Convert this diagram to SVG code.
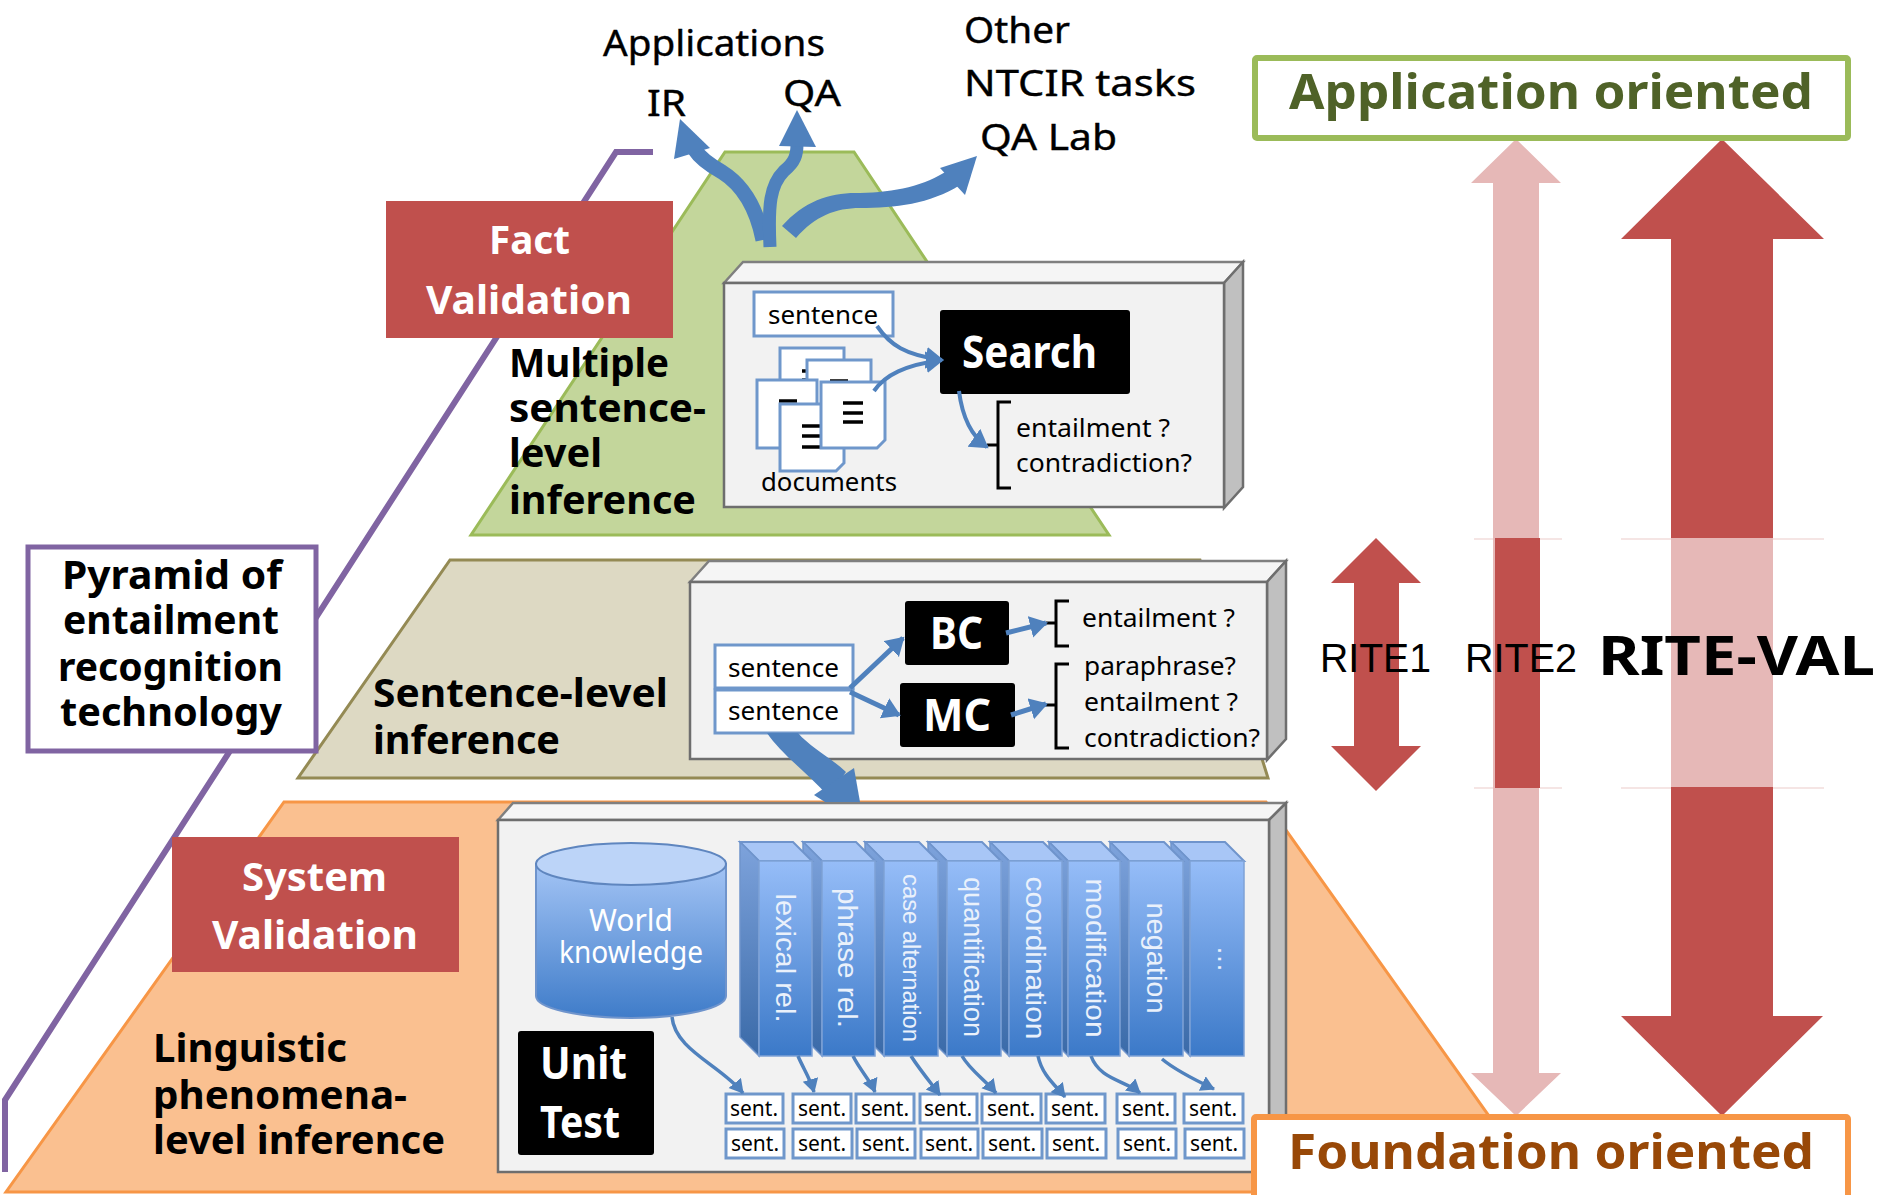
<svg xmlns="http://www.w3.org/2000/svg" width="1879" height="1195" viewBox="0 0 1879 1195">
<style>
text{font-family:"Noto Sans","Liberation Sans",sans-serif;fill:#000}
.b{font-weight:700}
.w{fill:#fff}
.c{text-anchor:middle}
.h{font-size:40px;font-weight:700}
.s{font-size:26px}
.t{font-size:37px;stroke:#000;stroke-width:.4}
.cap{font-size:48px;font-weight:700}
.blk{fill:#000}
.sb{fill:#fff;stroke:#6f97cb;stroke-width:3}
.st{font-size:21px;text-anchor:middle}
.front{fill:#f2f2f2;stroke:#6e6e6e;stroke-width:2.5}
.topf{fill:#f5f5f5;stroke:#7f7f7f;stroke-width:2.5}
.side{fill:#c0c0c0;stroke:#6e6e6e;stroke-width:2.5}
.cf{fill:url(#gf);stroke:#7fa2d6;stroke-width:1.5}
.cl{fill:url(#gl);stroke:#6f94cc;stroke-width:1.5}
.ct{fill:#a8c6f6;stroke:#6f94cc;stroke-width:2}
.rt{fill:#eaf1fb;font-family:"Liberation Sans",sans-serif;font-size:27px;text-anchor:middle}
.doc{fill:#fff;stroke:#6f97cb;stroke-width:3}
.ln{stroke:#000;stroke-width:3.5;fill:none}
.br{stroke:#000;stroke-width:3;fill:none}
.arr{fill:none;stroke:#4f81bd;stroke-linecap:butt}
.ah{fill:#4f81bd}
.dk{fill:#c0504d}
.pl{fill:#e6b8b7}
.fl{stroke:#f2dcdb;stroke-width:1.5}
</style>
<defs>
<linearGradient id="gf" x1="0" y1="0" x2="0" y2="1"><stop offset="0" stop-color="#96bdf8"/><stop offset="1" stop-color="#3b79c8"/></linearGradient>
<linearGradient id="gl" x1="0" y1="0" x2="0" y2="1"><stop offset="0" stop-color="#7ea3dc"/><stop offset="1" stop-color="#3a6aa8"/></linearGradient>
<linearGradient id="gc" x1="0" y1="0" x2="0" y2="1"><stop offset="0" stop-color="#a3c4f5"/><stop offset="1" stop-color="#3f7cc9"/></linearGradient>
<marker id="m" markerUnits="userSpaceOnUse" markerWidth="18" markerHeight="18" refX="13" refY="8" orient="auto"><path d="M0 0L14 8L0 16Z" fill="#4f81bd"/></marker>
<marker id="ms" markerUnits="userSpaceOnUse" markerWidth="20" markerHeight="24" refX="16" refY="11" orient="auto"><path d="M0 0L18 11L0 22Z" fill="#4f81bd"/></marker>
</defs>
<rect width="1879" height="1195" fill="#fff"/>

<g id="pyramid-top"><polygon points="725,152 854,152 1109,535 471,535" fill="#c3d69b" stroke="#9bbb59" stroke-width="3"/></g>
<g id="pyramid-middle"><polygon points="450,560 1200,560 1268,778 298,778" fill="#ddd9c3" stroke="#948a54" stroke-width="3"/></g>
<g id="pyramid-bottom"><polygon points="284,802 1266,802 1543,1192 6,1192" fill="#fac090" stroke="#f79646" stroke-width="3"/></g>

<g id="pyramid-outline"><polyline points="653,152 616,152 5,1100 5,1172" fill="none" stroke="#8064a2" stroke-width="6"/></g>

<g id="rite-val">
<polygon class="dk" points="1722,139 1824,239 1773,239 1773,1016 1823,1016 1722,1116 1621,1016 1671,1016 1671,239 1621,239"/>
<rect class="pl" x="1671" y="538" width="102" height="249"/>
<line class="fl" x1="1621" y1="539" x2="1671" y2="539"/><line class="fl" x1="1773" y1="539" x2="1824" y2="539"/>
<line class="fl" x1="1621" y1="788" x2="1671" y2="788"/><line class="fl" x1="1773" y1="788" x2="1824" y2="788"/>
</g>
<g id="rite2">
<polygon class="pl" points="1516,139 1561,183 1539,183 1539,1073 1561,1073 1516,1116 1471,1073 1493,1073 1493,183 1471,183"/>
<rect class="dk" x="1495" y="538" width="45" height="250"/>
<line class="fl" x1="1474" y1="539" x2="1493" y2="539"/><line class="fl" x1="1540" y1="539" x2="1562" y2="539"/>
<line class="fl" x1="1474" y1="788" x2="1493" y2="788"/><line class="fl" x1="1540" y1="788" x2="1562" y2="788"/>
</g>
<g id="rite1"><polygon class="dk" points="1376,538 1421,583 1399,583 1399,746 1421,746 1376,791 1331,746 1354,746 1354,583 1331,583"/></g>
<text x="1320" y="672" font-size="40" textLength="111" lengthAdjust="spacingAndGlyphs" style="font-family:'Liberation Sans',sans-serif">RITE1</text>
<text x="1465" y="672" font-size="40" textLength="112" lengthAdjust="spacingAndGlyphs" style="font-family:'Liberation Sans',sans-serif">RITE2</text>
<text x="1598" y="675" font-size="54" class="b" textLength="277" lengthAdjust="spacingAndGlyphs">RITE-VAL</text>

<g id="application-oriented"><rect x="1255" y="58" width="593" height="80" fill="#fff" stroke="#9bbb59" stroke-width="6" rx="2"/>
<text x="1289" y="109" class="cap" style="fill:#4f6228" textLength="524" lengthAdjust="spacingAndGlyphs">Application oriented</text></g>

<g id="pyramid-label"><rect x="28" y="547" width="288" height="204" fill="#fff" stroke="#8064a2" stroke-width="5"/>
<text x="62" y="589" class="h" textLength="220" lengthAdjust="spacingAndGlyphs">Pyramid of</text>
<text x="63" y="634" class="h" textLength="216" lengthAdjust="spacingAndGlyphs">entailment</text>
<text x="58" y="681" class="h" textLength="225" lengthAdjust="spacingAndGlyphs">recognition</text>
<text x="60" y="726" class="h" textLength="222" lengthAdjust="spacingAndGlyphs">technology</text></g>

<g id="fact-validation"><rect x="386" y="201" width="287" height="137" class="dk"/>
<text x="489" y="254" class="h w" textLength="81" lengthAdjust="spacingAndGlyphs">Fact</text>
<text x="426" y="314" class="h w" textLength="206" lengthAdjust="spacingAndGlyphs">Validation</text></g>
<g id="multiple-label">
<text x="509" y="377" class="h" textLength="160" lengthAdjust="spacingAndGlyphs">Multiple</text>
<text x="509" y="422" class="h" textLength="197" lengthAdjust="spacingAndGlyphs">sentence-</text>
<text x="509" y="467" class="h" textLength="93" lengthAdjust="spacingAndGlyphs">level</text>
<text x="509" y="514" class="h" textLength="187" lengthAdjust="spacingAndGlyphs">inference</text></g>

<g id="system-validation"><rect x="172" y="837" width="287" height="135" class="dk"/>
<text x="242" y="891" class="h w" textLength="145" lengthAdjust="spacingAndGlyphs">System</text>
<text x="212" y="949" class="h w" textLength="206" lengthAdjust="spacingAndGlyphs">Validation</text></g>
<g id="sentence-level-label">
<text x="373" y="707" class="h" textLength="295" lengthAdjust="spacingAndGlyphs">Sentence-level</text>
<text x="373" y="754" class="h" textLength="187" lengthAdjust="spacingAndGlyphs">inference</text></g>
<g id="linguistic-label">
<text x="153" y="1062" class="h" textLength="194" lengthAdjust="spacingAndGlyphs">Linguistic</text>
<text x="153" y="1109" class="h" textLength="254" lengthAdjust="spacingAndGlyphs">phenomena-</text>
<text x="153" y="1154" class="h" textLength="292" lengthAdjust="spacingAndGlyphs">level inference</text></g>

<g id="labels-top">
<text x="603" y="56" class="t" textLength="222" lengthAdjust="spacingAndGlyphs">Applications</text>
<text x="647" y="116" class="t" textLength="39" lengthAdjust="spacingAndGlyphs">IR</text>
<text x="783" y="106" class="t" textLength="58" lengthAdjust="spacingAndGlyphs">QA</text>
<text x="964" y="43" class="t" textLength="106" lengthAdjust="spacingAndGlyphs">Other</text>
<text x="964" y="96" class="t" textLength="232" lengthAdjust="spacingAndGlyphs">NTCIR tasks</text>
<text x="980" y="150" class="t" textLength="137" lengthAdjust="spacingAndGlyphs">QA Lab</text>
</g>

<g id="box-search">
<polygon class="topf" points="724,283 743,262 1243,262 1224,283"/>
<polygon class="side" points="1224,283 1243,262 1243,487 1224,508"/>
<rect class="front" x="724" y="283" width="500" height="224"/>
<rect class="sb" x="754" y="292" width="139" height="44"/>
<text x="768" y="324" class="s" textLength="110" lengthAdjust="spacingAndGlyphs">sentence</text>
<path class="doc" d="M780 348h64v60l-8 8h-56z"/><line class="ln" x1="802" y1="371" x2="812" y2="371"/><line class="ln" x1="802" y1="380" x2="812" y2="380"/>
<path class="doc" d="M807 360h64v60l-8 8h-56z"/><line class="ln" x1="830" y1="381" x2="848" y2="381"/>
<path class="doc" d="M757 380h60v60l-8 8h-52z"/><line class="ln" x1="779" y1="401" x2="797" y2="401"/>
<path class="doc" d="M780 404h64v59l-8 8h-56z"/><line class="ln" x1="802" y1="426" x2="820" y2="426"/><line class="ln" x1="802" y1="436" x2="820" y2="436"/><line class="ln" x1="802" y1="447" x2="820" y2="447"/>
<path class="doc" d="M821 382h64v58l-8 8h-56z"/><line class="ln" x1="843" y1="403" x2="863" y2="403"/><line class="ln" x1="843" y1="413" x2="863" y2="413"/><line class="ln" x1="843" y1="422" x2="863" y2="422"/>
<text x="761" y="491" class="s" textLength="136" lengthAdjust="spacingAndGlyphs">documents</text>
<rect class="blk" x="940" y="310" width="190" height="84" rx="3"/>
<text x="962" y="368" font-size="44" class="b w" textLength="135" lengthAdjust="spacingAndGlyphs">Search</text>
<path class="br" d="M1011 402h-13v86h13M987 445h11"/>
<text x="1016" y="437" class="s" textLength="154" lengthAdjust="spacingAndGlyphs">entailment ?</text>
<text x="1016" y="472" class="s" textLength="176" lengthAdjust="spacingAndGlyphs">contradiction?</text>
</g>

<g id="box-classify">
<polygon class="topf" points="690,582 709,561 1286,561 1267,582"/>
<polygon class="side" points="1267,582 1286,561 1286,739 1267,760"/>
<rect class="front" x="690" y="582" width="577" height="177"/>
<rect class="sb" x="715" y="645" width="138" height="43"/>
<rect class="sb" x="715" y="690" width="138" height="43"/>
<text x="728" y="677" class="s" textLength="111" lengthAdjust="spacingAndGlyphs">sentence</text>
<text x="728" y="720" class="s" textLength="111" lengthAdjust="spacingAndGlyphs">sentence</text>
<rect class="blk" x="905" y="601" width="104" height="64" rx="3"/>
<text x="930" y="649" font-size="44" class="b w" textLength="53" lengthAdjust="spacingAndGlyphs">BC</text>
<rect class="blk" x="900" y="683" width="115" height="64" rx="3"/>
<text x="923" y="731" font-size="44" class="b w" textLength="68" lengthAdjust="spacingAndGlyphs">MC</text>
<path class="br" d="M1069 601h-13v45h13M1046 623h10"/>
<path class="br" d="M1069 664h-13v84h13M1046 705h10"/>
<text x="1082" y="627" class="s" textLength="153" lengthAdjust="spacingAndGlyphs">entailment ?</text>
<text x="1084" y="675" class="s" textLength="152" lengthAdjust="spacingAndGlyphs">paraphrase?</text>
<text x="1084" y="711" class="s" textLength="154" lengthAdjust="spacingAndGlyphs">entailment ?</text>
<text x="1084" y="747" class="s" textLength="176" lengthAdjust="spacingAndGlyphs">contradiction?</text>
</g>

<g id="box-unit">
<polygon class="topf" points="498,820 513,803 1286,803 1269,820"/>
<polygon class="side" points="1269,820 1286,803 1286,1155 1269,1173"/>
<rect class="front" x="498" y="820" width="771" height="352"/>
<g id="world-knowledge">
<path d="M536 864V996A95 22 0 0 0 726 996V864Z" fill="url(#gc)" stroke="#6f94cc" stroke-width="2"/>
<ellipse cx="631" cy="864" rx="95" ry="21" fill="#bcd4f8" stroke="#5f86bf" stroke-width="2"/>
<text x="631" y="931" font-size="31" class="c w" textLength="84" lengthAdjust="spacingAndGlyphs">World</text>
<text x="631" y="963" font-size="31" class="c w" textLength="144" lengthAdjust="spacingAndGlyphs">knowledge</text>
</g>
<rect class="blk" x="518" y="1031" width="136" height="124" rx="3"/>
<text x="540" y="1079" font-size="44" class="b w" textLength="87" lengthAdjust="spacingAndGlyphs">Unit</text>
<text x="540" y="1138" font-size="44" class="b w" textLength="80" lengthAdjust="spacingAndGlyphs">Test</text>

<g id="col-dots"><polygon class="ct" points="1171,842 1225,842 1244,861 1190,861"/><polygon class="cl" points="1171,842 1190,861 1190,1056 1171,1037"/><rect class="cf" x="1190" y="861" width="54" height="195"/>
<text class="rt" transform="translate(1227 959) rotate(90)" y="9" textLength="24" lengthAdjust="spacing">…</text></g>
<g id="col-negation"><polygon class="ct" points="1110,842 1164,842 1183,861 1129,861"/><polygon class="cl" points="1110,842 1129,861 1129,1056 1110,1037"/><rect class="cf" x="1129" y="861" width="54" height="195"/>
<text class="rt" transform="translate(1156 958) rotate(90)" y="9" textLength="111" lengthAdjust="spacingAndGlyphs">negation</text></g>
<g id="col-modification"><polygon class="ct" points="1049,842 1101,842 1120,861 1068,861"/><polygon class="cl" points="1049,842 1068,861 1068,1056 1049,1037"/><rect class="cf" x="1068" y="861" width="52" height="195"/>
<text class="rt" transform="translate(1095 958) rotate(90)" y="9" textLength="159" lengthAdjust="spacingAndGlyphs">modification</text></g>
<g id="col-coordination"><polygon class="ct" points="990,842 1043,842 1062,861 1009,861"/><polygon class="cl" points="990,842 1009,861 1009,1056 990,1037"/><rect class="cf" x="1009" y="861" width="53" height="195"/>
<text class="rt" transform="translate(1035 958) rotate(90)" y="9" textLength="163" lengthAdjust="spacingAndGlyphs">coordination</text></g>
<g id="col-quantification"><polygon class="ct" points="928,842 982,842 1001,861 947,861"/><polygon class="cl" points="928,842 947,861 947,1056 928,1037"/><rect class="cf" x="947" y="861" width="54" height="195"/>
<text class="rt" transform="translate(973 957) rotate(90)" y="9" textLength="160" lengthAdjust="spacingAndGlyphs">quantification</text></g>
<g id="col-case"><polygon class="ct" points="865,842 919,842 938,861 884,861"/><polygon class="cl" points="865,842 884,861 884,1056 865,1037"/><rect class="cf" x="884" y="861" width="54" height="195"/>
<text class="rt" transform="translate(911 958) rotate(90)" y="8" textLength="168" lengthAdjust="spacingAndGlyphs" style="font-size:23px">case alternation</text></g>
<g id="col-phrase"><polygon class="ct" points="803,842 856,842 875,861 822,861"/><polygon class="cl" points="803,842 822,861 822,1056 803,1037"/><rect class="cf" x="822" y="861" width="53" height="195"/>
<text class="rt" transform="translate(847 958) rotate(90)" y="9" textLength="140" lengthAdjust="spacingAndGlyphs">phrase rel.</text></g>
<g id="col-lexical"><polygon class="ct" points="740,842 793,842 812,861 759,861"/><polygon class="cl" points="740,842 759,861 759,1056 740,1037"/><rect class="cf" x="759" y="861" width="53" height="195"/>
<text class="rt" transform="translate(785 958) rotate(90)" y="9" textLength="129" lengthAdjust="spacingAndGlyphs">lexical rel.</text></g>

<g id="sentences">
<rect class="sb" x="726" y="1094" width="57" height="29"/><text class="st" x="754" y="1116">sent.</text>
<rect class="sb" x="793" y="1094" width="58" height="29"/><text class="st" x="822" y="1116">sent.</text>
<rect class="sb" x="856" y="1094" width="58" height="29"/><text class="st" x="885" y="1116">sent.</text>
<rect class="sb" x="920" y="1094" width="57" height="29"/><text class="st" x="948" y="1116">sent.</text>
<rect class="sb" x="982" y="1094" width="59" height="29"/><text class="st" x="1011" y="1116">sent.</text>
<rect class="sb" x="1046" y="1094" width="59" height="29"/><text class="st" x="1075" y="1116">sent.</text>
<rect class="sb" x="1117" y="1094" width="58" height="29"/><text class="st" x="1146" y="1116">sent.</text>
<rect class="sb" x="1184" y="1094" width="59" height="29"/><text class="st" x="1213" y="1116">sent.</text>
<rect class="sb" x="726" y="1129" width="58" height="29"/><text class="st" x="755" y="1151">sent.</text>
<rect class="sb" x="793" y="1129" width="59" height="29"/><text class="st" x="822" y="1151">sent.</text>
<rect class="sb" x="857" y="1129" width="58" height="29"/><text class="st" x="886" y="1151">sent.</text>
<rect class="sb" x="921" y="1129" width="57" height="29"/><text class="st" x="949" y="1151">sent.</text>
<rect class="sb" x="983" y="1129" width="59" height="29"/><text class="st" x="1012" y="1151">sent.</text>
<rect class="sb" x="1047" y="1129" width="59" height="29"/><text class="st" x="1076" y="1151">sent.</text>
<rect class="sb" x="1118" y="1129" width="58" height="29"/><text class="st" x="1147" y="1151">sent.</text>
<rect class="sb" x="1185" y="1129" width="59" height="29"/><text class="st" x="1214" y="1151">sent.</text>
</g>
</g>

<g id="connectors">
<path class="arr" stroke-width="15" d="M763 240C755 200 738 182 722 172C708 164 700 158 695 150"/>
<polygon class="ah" points="680,119 710,148 674,159"/>
<path class="arr" stroke-width="13" d="M770 247C768 205 770 185 784 171C795 162 797 155 797 144"/>
<polygon class="ah" points="797,110 816,147 779,146"/>
<path class="ah" d="M782 226C805 200 832 192 860 193C895 192 925 186 948 170L960 185C930 204 895 208 860 208C836 208 815 216 796 238Z"/>
<polygon class="ah" points="977,156 965,195 940,168"/>
<path class="ah" d="M767 733H798C810 747 830 757 846 772L828 796C810 775 782 755 767 733Z"/>
<polygon class="ah" points="814,795 854,768 860,802 825,802"/>

<path class="arr" stroke-width="4" marker-end="url(#ms)" d="M877 326C890 345 905 355 942 360"/>
<path class="arr" stroke-width="4" marker-end="url(#ms)" d="M874 391C885 375 905 365 942 360"/>
<path class="arr" stroke-width="4" marker-end="url(#ms)" d="M959 391C962 415 970 435 987 447"/>
<path class="arr" stroke-width="5" marker-end="url(#ms)" d="M850 688L903 638"/>
<path class="arr" stroke-width="5" marker-end="url(#ms)" d="M850 692L899 715"/>
<path class="arr" stroke-width="5" marker-end="url(#ms)" d="M1006 633L1046 623"/>
<path class="arr" stroke-width="5" marker-end="url(#ms)" d="M1011 715L1046 704"/>
<path class="arr" stroke-width="3.5" marker-end="url(#m)" d="M672 1017C675 1050 720 1065 743 1093"/>
<path class="arr" stroke-width="3.5" marker-end="url(#m)" d="M798 1056C803 1068 810 1078 814 1092"/>
<path class="arr" stroke-width="3.5" marker-end="url(#m)" d="M853 1056C860 1070 870 1080 875 1092"/>
<path class="arr" stroke-width="3.5" marker-end="url(#m)" d="M911 1056C920 1070 930 1082 940 1095"/>
<path class="arr" stroke-width="3.5" marker-end="url(#m)" d="M962 1056C970 1070 985 1080 996 1093"/>
<path class="arr" stroke-width="3.5" marker-end="url(#m)" d="M1038 1056C1042 1075 1055 1085 1065 1097"/>
<path class="arr" stroke-width="3.5" marker-end="url(#m)" d="M1091 1056C1100 1080 1125 1080 1140 1093"/>
<path class="arr" stroke-width="3.5" marker-end="url(#m)" d="M1162 1059C1175 1070 1195 1080 1214 1089"/>
</g>

<g id="foundation-oriented"><rect x="1254" y="1117" width="594" height="90" fill="#fff" stroke="#f79646" stroke-width="6" rx="2"/>
<text x="1288" y="1169" class="cap" style="fill:#984807" textLength="526" lengthAdjust="spacingAndGlyphs">Foundation oriented</text></g>
</svg>
